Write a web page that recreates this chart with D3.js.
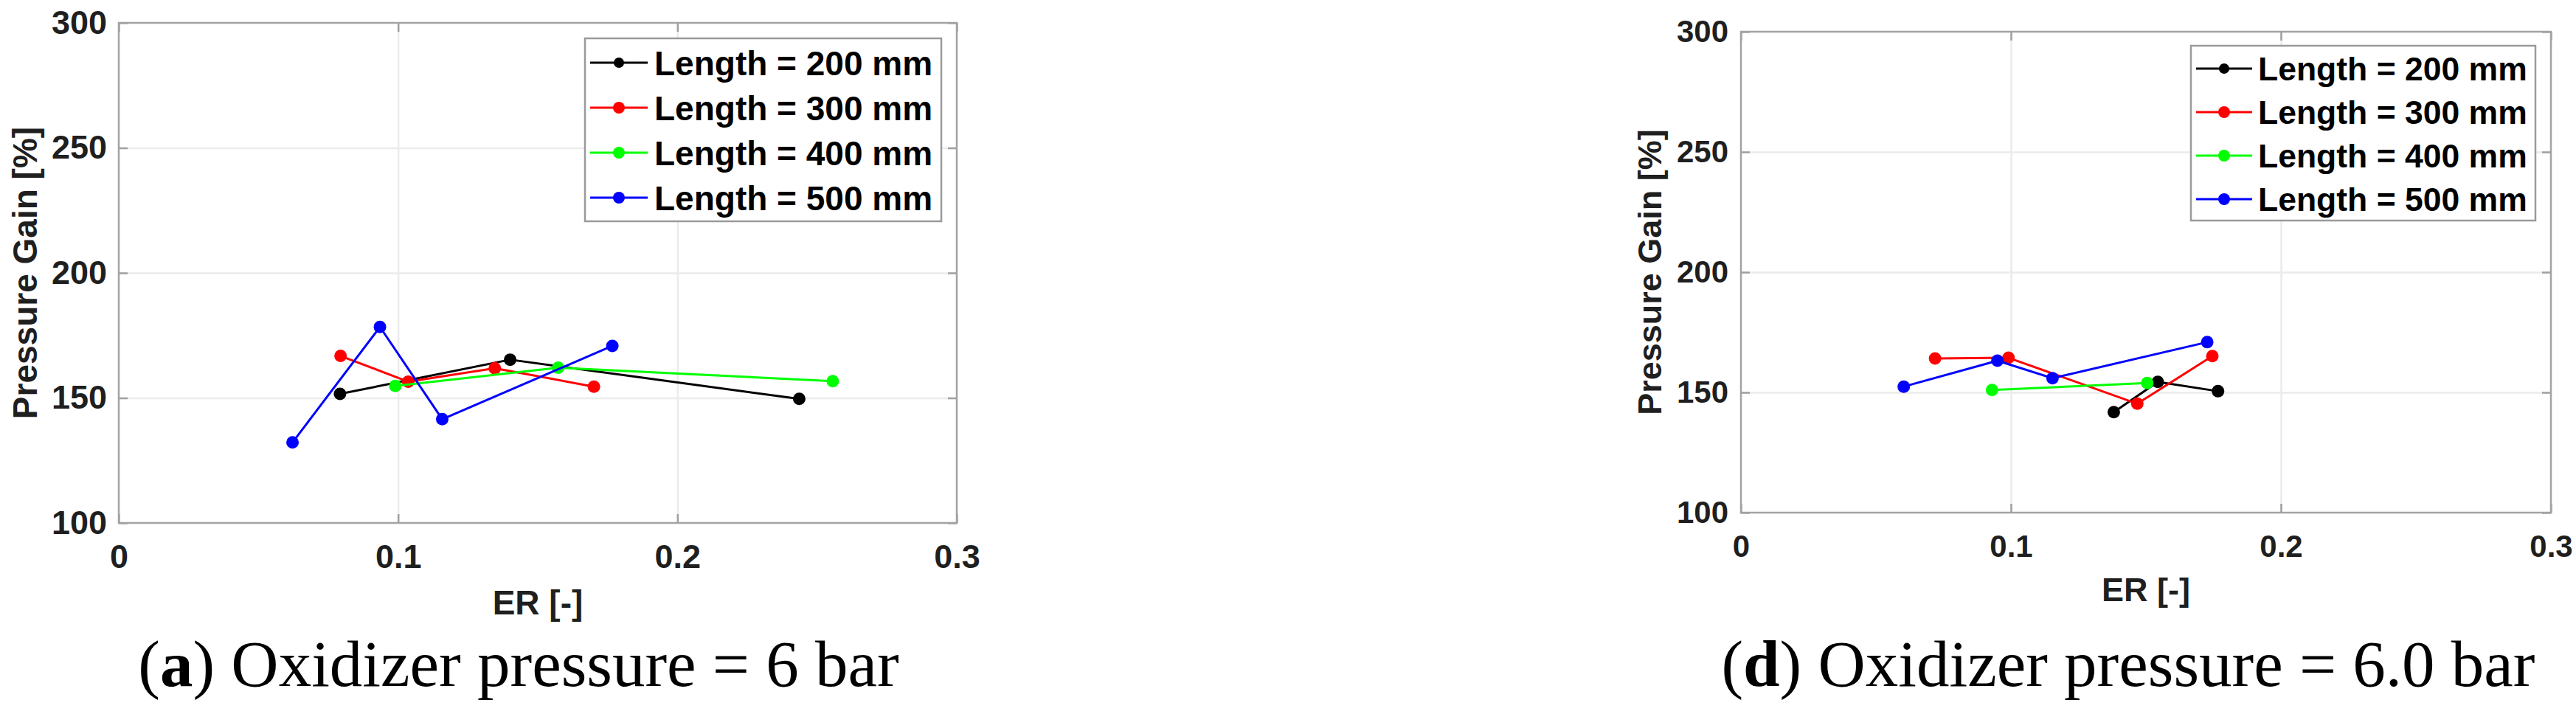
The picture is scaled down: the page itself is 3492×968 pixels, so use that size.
<!DOCTYPE html>
<html>
<head>
<meta charset="utf-8">
<script src="https://cdn.jsdelivr.net/npm/d3@7/dist/d3.min.js"></script>
<style>
  html, body { margin: 0; padding: 0; background: #ffffff; }
  svg { display: block; }
</style>
</head>
<body>
<svg id="chart" width="3492" height="968"></svg>
<script>
// ---------------- DATA ----------------
const seriesNames  = ["Length = 200 mm", "Length = 300 mm", "Length = 400 mm", "Length = 500 mm"];
const seriesColors = ["#000000", "#ff0000", "#00ff00", "#0000ff"];

const xTicks      = [0, 0.1, 0.2, 0.3];
const xTickLabels = ["0", "0.1", "0.2", "0.3"];
const yTicks      = [100, 150, 200, 250, 300];
const yTickLabels = ["100", "150", "200", "250", "300"];
const xLabel = "ER [-]";
const yLabel = "Pressure Gain [%]";

// Panel (a): oxidizer pressure = 6 bar
const a_er_200 = [0.0792, 0.1401, 0.2436];
const a_pg_200 = [151.6, 165.3, 149.6];
const a_er_300 = [0.0794, 0.1036, 0.1346, 0.1701];
const a_pg_300 = [166.8, 156.5, 161.9, 154.5];
const a_er_400 = [0.0990, 0.1573, 0.2556];
const a_pg_400 = [154.8, 162.1, 156.7];
const a_er_500 = [0.0622, 0.0935, 0.1158, 0.1767];
const a_pg_500 = [132.2, 178.4, 141.5, 170.8];

// Panel (d): oxidizer pressure = 6.0 bar
const d_er_200 = [0.1381, 0.1544, 0.1767];
const d_pg_200 = [141.8, 154.4, 150.5];
const d_er_300 = [0.0719, 0.0991, 0.1468, 0.1746];
const d_pg_300 = [164.1, 164.4, 145.3, 165.1];
const d_er_400 = [0.0930, 0.1505];
const d_pg_400 = [151.0, 153.9];
const d_er_500 = [0.0603, 0.0950, 0.1154, 0.1727];
const d_pg_500 = [152.4, 163.2, 155.9, 170.9];

const captionA = { letter: "a", text: " Oxidizer pressure = 6 bar" };
const captionD = { letter: "d", text: " Oxidizer pressure = 6.0 bar" };

// ---------------- DRAW ----------------
const svg = d3.select("#chart");
const SANS = "'Liberation Sans', Arial, Helvetica, sans-serif";
const SERIF = "'Liberation Serif', 'Times New Roman', serif";
const TXT = "#1f1f1f";

function zipSeries(erList, pgList) {
  return erList.map((er, i) => er.map((x, j) => ({ x: x, y: pgList[i][j] })));
}

function drawPanel(cfg, series, caption) {
  const g = svg.append("g");
  const x = d3.scaleLinear().domain([0, 0.3]).range([cfg.x0, cfg.x1]);
  const y = d3.scaleLinear().domain([100, 300]).range([cfg.y1, cfg.y0]);
  const W = cfg.x1 - cfg.x0, H = cfg.y1 - cfg.y0;

  // grid
  const gx = g.append("g").attr("transform", `translate(0,${cfg.y1})`)
    .call(d3.axisBottom(x).tickValues(xTicks.slice(1, -1)).tickSize(-H).tickFormat(""));
  const gy = g.append("g").attr("transform", `translate(${cfg.x0},0)`)
    .call(d3.axisLeft(y).tickValues(yTicks.slice(1, -1)).tickSize(-W).tickFormat(""));
  [gx, gy].forEach(s => {
    s.select(".domain").remove();
    s.selectAll("line").attr("stroke", "#ebebeb").attr("stroke-width", 2.5);
  });

  // inward tick marks on all four sides
  const tk = 12;
  const tb = g.append("g").attr("transform", `translate(0,${cfg.y1})`)
    .call(d3.axisBottom(x).tickValues(xTicks).tickSizeInner(-tk).tickSizeOuter(0)
      .tickPadding(cfg.xPad).tickFormat((d, i) => xTickLabels[i]));
  const tt = g.append("g").attr("transform", `translate(0,${cfg.y0})`)
    .call(d3.axisTop(x).tickValues(xTicks).tickSizeInner(-tk).tickSizeOuter(0).tickFormat(""));
  const tl = g.append("g").attr("transform", `translate(${cfg.x0},0)`)
    .call(d3.axisLeft(y).tickValues(yTicks).tickSizeInner(-tk).tickSizeOuter(0)
      .tickPadding(cfg.yPad).tickFormat((d, i) => yTickLabels[i]));
  const tr = g.append("g").attr("transform", `translate(${cfg.x1},0)`)
    .call(d3.axisRight(y).tickValues(yTicks).tickSizeInner(-tk).tickSizeOuter(0).tickFormat(""));
  [tb, tt, tl, tr].forEach(s => {
    s.select(".domain").remove();
    s.selectAll("line").attr("stroke", "#a0a0a0").attr("stroke-width", 2.5);
    s.selectAll("text").attr("font-family", SANS).attr("font-weight", "bold")
      .attr("font-size", cfg.tickFont).attr("fill", TXT);
  });

  // box
  g.append("rect").attr("x", cfg.x0).attr("y", cfg.y0).attr("width", W).attr("height", H)
    .attr("fill", "none").attr("stroke", "#a3a3a3").attr("stroke-width", 2.5);

  // axis labels
  g.append("text").attr("x", (cfg.x0 + cfg.x1) / 2).attr("y", cfg.y1 + cfg.xLabOff)
    .attr("text-anchor", "middle").attr("font-family", SANS).attr("font-weight", "bold")
    .attr("font-size", cfg.labFont).attr("fill", TXT).text(xLabel);
  g.append("text")
    .attr("transform", `translate(${cfg.x0 - cfg.yLabOff},${(cfg.y0 + cfg.y1) / 2}) rotate(-90)`)
    .attr("text-anchor", "middle").attr("font-family", SANS).attr("font-weight", "bold")
    .attr("font-size", cfg.labFont).attr("fill", TXT).text(yLabel);

  // series
  const line = d3.line().x(d => x(d.x)).y(d => y(d.y));
  series.forEach((pts, i) => {
    g.append("path").datum(pts).attr("d", line).attr("fill", "none")
      .attr("stroke", seriesColors[i]).attr("stroke-width", 3).attr("stroke-linejoin", "round");
    g.selectAll(null).data(pts).enter().append("circle")
      .attr("cx", d => x(d.x)).attr("cy", d => y(d.y)).attr("r", 8.5)
      .attr("fill", seriesColors[i]);
  });

  // legend
  const L = cfg.legend;
  g.append("rect").attr("x", L.x0).attr("y", L.y0).attr("width", L.x1 - L.x0).attr("height", L.y1 - L.y0)
    .attr("fill", "#ffffff").attr("stroke", "#9a9a9a").attr("stroke-width", 2.5);
  seriesNames.forEach((name, i) => {
    const cy = L.first + i * L.step;
    g.append("line").attr("x1", L.lx0).attr("x2", L.lx1).attr("y1", cy).attr("y2", cy)
      .attr("stroke", seriesColors[i]).attr("stroke-width", 3);
    g.append("circle").attr("cx", (L.lx0 + L.lx1) / 2).attr("cy", cy).attr("r", i === 0 ? 7 : 8)
      .attr("fill", seriesColors[i]);
    g.append("text").attr("x", L.tx).attr("y", cy + L.font * 0.36)
      .attr("font-family", SANS).attr("font-weight", "bold").attr("font-size", L.font)
      .attr("fill", "#000").text(name);
  });

  // caption
  const t = svg.append("text").attr("x", cfg.capX).attr("y", cfg.capY)
    .attr("text-anchor", "middle").attr("font-family", SERIF).attr("font-size", cfg.capFont)
    .attr("fill", "#000");
  t.append("tspan").text("(");
  t.append("tspan").attr("font-weight", "bold").text(caption.letter);
  t.append("tspan").text(")" + caption.text);
}

drawPanel({
  x0: 161, x1: 1297, y0: 31, y1: 709,
  tickFont: 45, labFont: 46, xPad: 29, yPad: 16, xLabOff: 124, yLabOff: 111,
  capX: 703, capY: 930, capFont: 89,
  legend: { x0: 793, x1: 1276, y0: 52, y1: 300, first: 85, step: 61, lx0: 800, lx1: 878, tx: 887, font: 46 }
}, zipSeries([a_er_200, a_er_300, a_er_400, a_er_500], [a_pg_200, a_pg_300, a_pg_400, a_pg_500]), captionA);

drawPanel({
  x0: 2360, x1: 3458, y0: 43, y1: 695,
  tickFont: 42, labFont: 45, xPad: 30, yPad: 17, xLabOff: 120, yLabOff: 108,
  capX: 2885, capY: 930, capFont: 89,
  legend: { x0: 2970, x1: 3437, y0: 62, y1: 299, first: 93, step: 59, lx0: 2977, lx1: 3053, tx: 3061, font: 44.5 }
}, zipSeries([d_er_200, d_er_300, d_er_400, d_er_500], [d_pg_200, d_pg_300, d_pg_400, d_pg_500]), captionD);
</script>
</body>
</html>
